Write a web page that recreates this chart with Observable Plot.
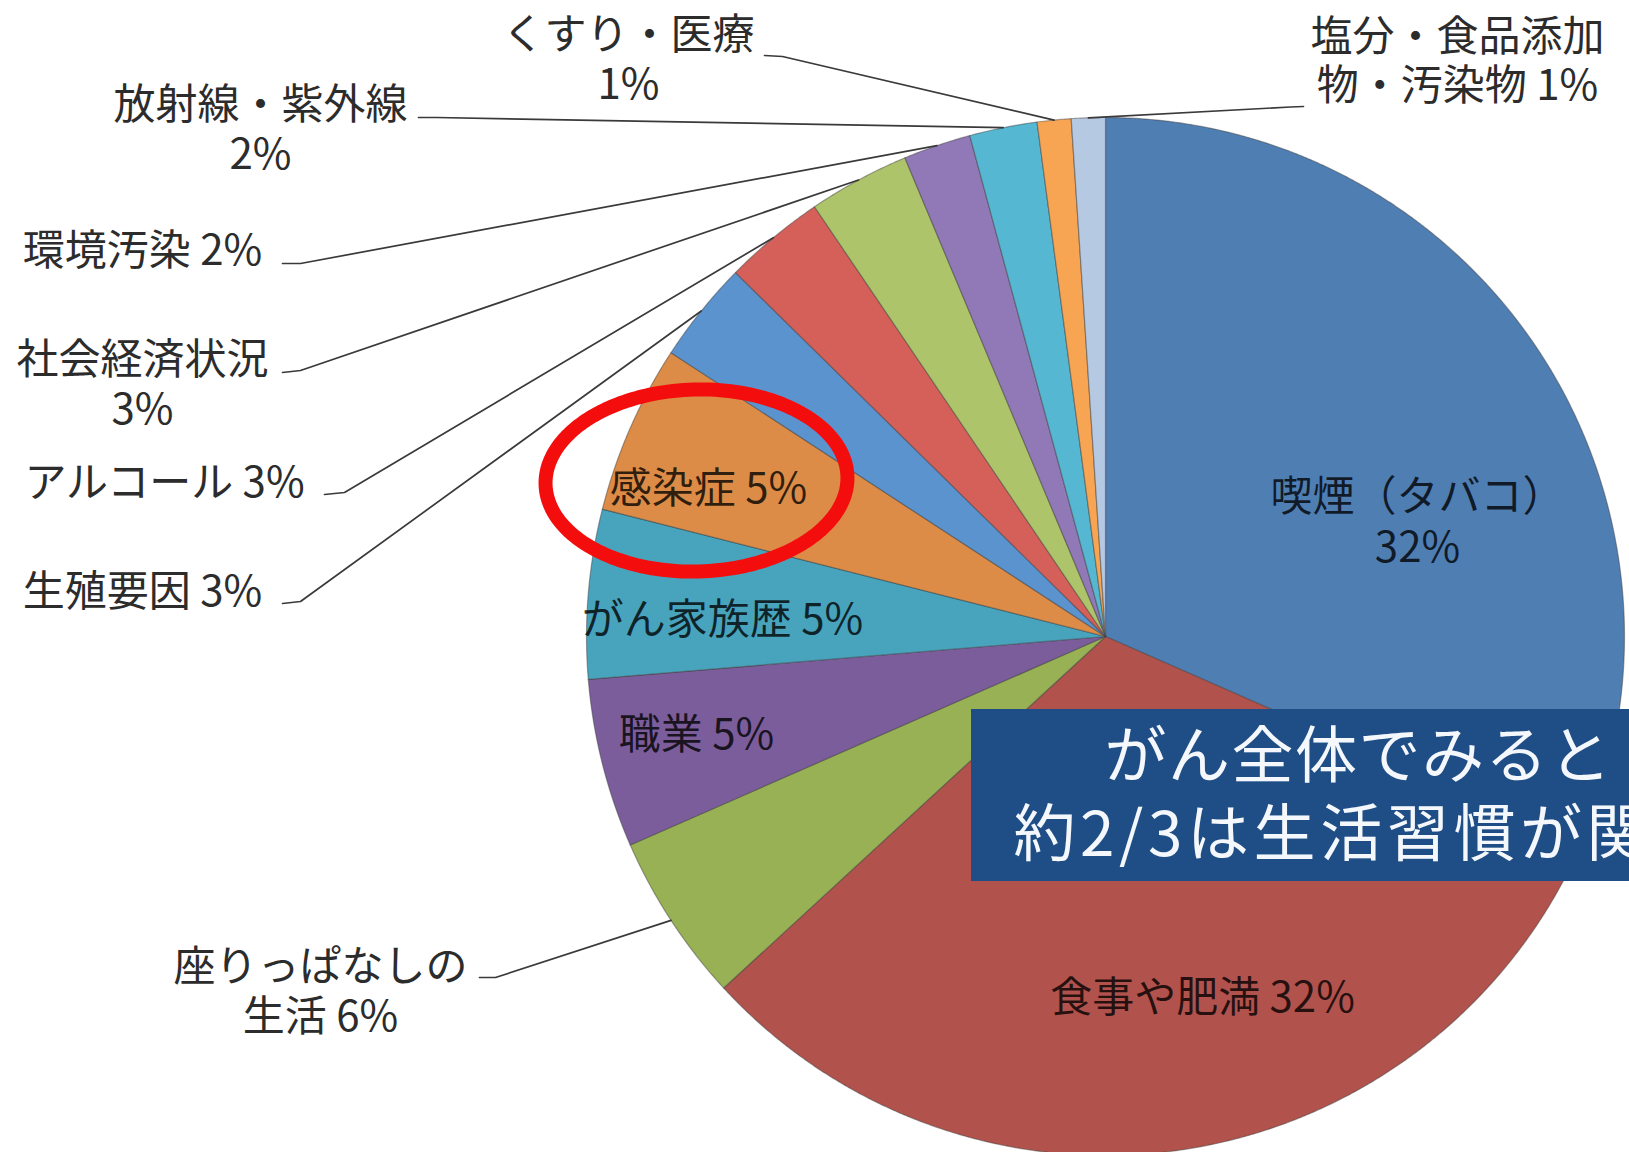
<!DOCTYPE html>
<html><head><meta charset="utf-8">
<script src="https://cdn.jsdelivr.net/npm/d3@7"></script>
<script src="https://cdn.jsdelivr.net/npm/@observablehq/plot@0.6"></script>
<style>
html,body{margin:0;padding:0;background:#fff;overflow:hidden}
svg{overflow:hidden}
</style>
</head><body><div id="chart"></div>
<script>
// ---- data (clockwise from 12 o'clock) ----
const categories = ["喫煙（タバコ）","食事や肥満","座りっぱなしの生活","職業","がん家族歴","感染症",
  "生殖要因","アルコール","社会経済状況","環境汚染","放射線・紫外線","くすり・医療","塩分・食品添加物・汚染物"];
const shares = [30, 30, 5, 5, 5, 5, 3, 3, 3, 2, 2, 1, 1];
const pctLabels = ["32%","32%","6%","5%","5%","5%","3%","3%","3%","2%","2%","1%","1%"];
const sliceColors = ["#4f7eb3","#b1524c","#98b155","#7b5d9b","#48a3bd","#dc8c46",
  "#5b93cf","#d5605a","#adc46a","#9079b6","#56b7d2","#f8a553","#b6c9e2"];

// displayed label texts (as written in the chart)
const insideLabels = [
  {cat: 0, text: "喫煙（タバコ）\n32%"},
  {cat: 1, text: "食事や肥満 32%"},
  {cat: 5, text: "感染症 5%"},
  {cat: 4, text: "がん家族歴 5%"},
  {cat: 3, text: "職業 5%"}
];
const outsideLabels = [
  {cat: 11, text: "くすり・医療\n1%"},
  {cat: 12, text: "塩分・食品添加\n物・汚染物 1%"},
  {cat: 10, text: "放射線・紫外線\n2%"},
  {cat: 9, text: "環境汚染 2%"},
  {cat: 8, text: "社会経済状況\n3%"},
  {cat: 7, text: "アルコール 3%"},
  {cat: 6, text: "生殖要因 3%"},
  {cat: 2, text: "座りっぱなしの\n生活 6%"}
];
const calloutLines = ["がん全体でみると", "約2/3は生活習慣が関係"];

// ---- layout (pixel-space coordinates of the drawing frame) ----
const W = 1629, H = 1152;
const CX = 1105, CY = 636, R = 519;
const insidePos = [[1417, 520], [1202, 995], [708, 486], [722, 617], [696, 732]];
const outsidePos = [[628, 57.5], [1457, 59], [260, 127.5], [142, 249], [142, 382.5], [164, 481], [142, 590], [320, 989.5]];
// leader start + elbow for each outside-labelled category
const leaderStart = {11: [[764, 55], [782, 56]], 12: [[1303, 106], [1290, 106.5]], 10: [[418, 117], [436, 117]],
  9: [[282, 263], [300, 263]], 8: [[282, 372], [300, 370]], 7: [[324, 494], [344, 492]],
  6: [[282, 603], [300, 601]], 2: [[479, 977], [495, 977]]};
const callout = {x1: 971, x2: 1720, y1: 709, y2: 881};
const calloutPos = [[1104, 758], [1013, 836]];
const calloutSpacing = [1.5, 4.6];
const ring = {cx: 696, cy: 480, rx: 151, ry: 91, rot: -1.5};

// ---- geometry from data ----
const arcs = d3.pie().sort(null).value(d => d)(shares);
const slicePts = [];
arcs.forEach((a, i) => {
  const cat = categories[i];
  slicePts.push({cat, x: CX, y: CY});
  const n = Math.max(4, Math.ceil((a.endAngle - a.startAngle) / (Math.PI / 720)));
  for (let k = 0; k <= n; k++) {
    const t = a.startAngle + (a.endAngle - a.startAngle) * k / n;
    slicePts.push({cat, x: CX + R * Math.sin(t), y: CY - R * Math.cos(t)});
  }
});
const leaderPts = [];
Object.entries(leaderStart).forEach(([i, pts]) => {
  const a = arcs[+i], m = (a.startAngle + a.endAngle) / 2;
  pts.forEach(p => leaderPts.push({id: i, x: p[0], y: p[1]}));
  leaderPts.push({id: i, x: CX + R * Math.sin(m), y: CY - R * Math.cos(m)});
});
const inside = insideLabels.map((d, j) => ({...d, x: insidePos[j][0], y: insidePos[j][1]}));
const outside = outsideLabels.map((d, j) => ({...d, x: outsidePos[j][0], y: outsidePos[j][1]}));
const calloutText = calloutLines.map((t, j) => ({text: t, x: calloutPos[j][0], y: calloutPos[j][1]}));
const ringPts = d3.range(0, 361, 2).map(deg => {
  const t = deg * Math.PI / 180, p = ring.rot * Math.PI / 180;
  const ex = ring.rx * Math.cos(t), ey = ring.ry * Math.sin(t);
  return {x: ring.cx + ex * Math.cos(p) - ey * Math.sin(p), y: ring.cy + ex * Math.sin(p) + ey * Math.cos(p)};
});

const font = "'Noto Sans CJK JP', 'Noto Sans', sans-serif";
const chart = Plot.plot({
  width: W, height: H, margin: 0,
  style: {fontFamily: font, background: "#fff", overflow: "hidden"},
  x: {domain: [0, W], range: [0, W], axis: null},
  y: {domain: [0, H], range: [0, H], axis: null},
  color: {domain: categories, range: sliceColors},
  marks: [
    Plot.line(slicePts, {x: "x", y: "y", z: "cat", fill: "cat", stroke: "#3c3c3c",
      strokeOpacity: 0.45, strokeWidth: 1.2, curve: "linear-closed"}),
    Plot.line(leaderPts, {x: "x", y: "y", z: "id", stroke: "#3a3a3a", strokeWidth: 1.7}),
    Plot.text(inside, {x: "x", y: "y", text: "text", fontSize: 42, fill: "#000", fillOpacity: 0.78,
      textAnchor: "middle", lineAnchor: "middle", lineHeight: 1.2}),
    Plot.line(ringPts, {x: "x", y: "y", stroke: "#f40d0d", strokeWidth: 14, curve: "linear-closed"}),
    Plot.rect([callout], {x1: "x1", x2: "x2", y1: "y1", y2: "y2", fill: "#1f4e86"}),
    Plot.text(calloutText, {x: "x", y: "y", text: "text", fontSize: 62, fill: "#f4f8fc",
      textAnchor: "start", lineAnchor: "middle"}),
    Plot.text(outside, {x: "x", y: "y", text: "text", fontSize: 42, fill: "#2c2c2c",
      textAnchor: "middle", lineAnchor: "middle", lineHeight: 1.18})
  ]
});
// widen the callout lettering to match the original typeface
d3.select(chart).selectAll("text").each(function() {
  const j = calloutLines.indexOf(this.textContent);
  if (j >= 0) this.style.letterSpacing = calloutSpacing[j] + "px";
});
document.getElementById("chart").appendChild(chart);
</script></body></html>
